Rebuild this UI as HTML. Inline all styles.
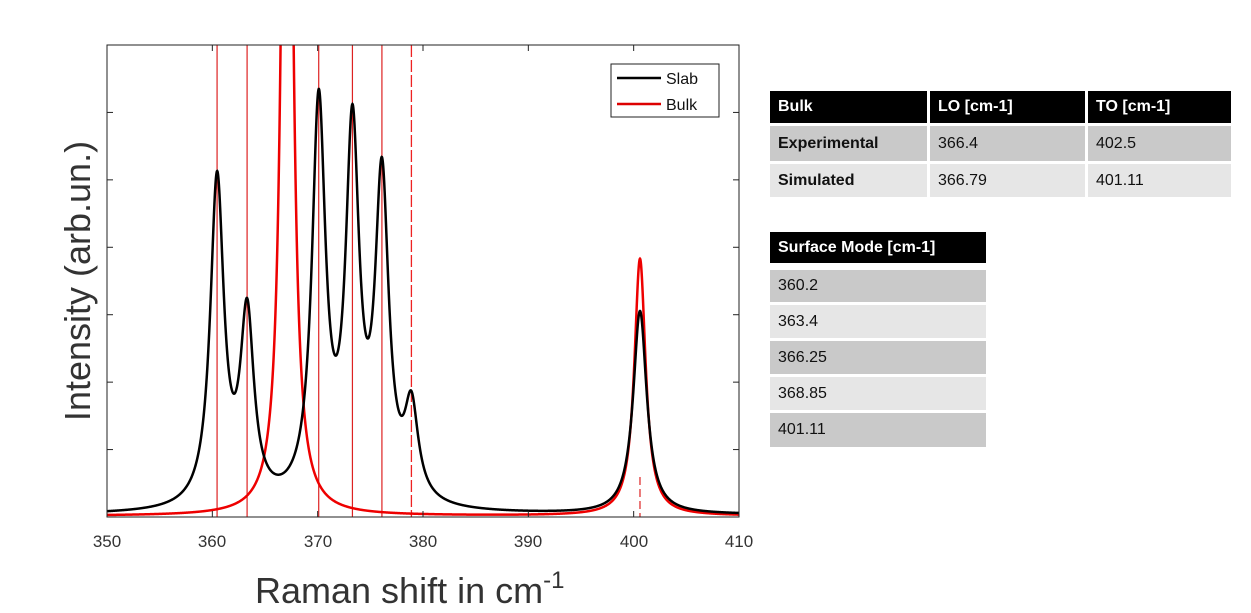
<!DOCTYPE html>
<html><head><meta charset="utf-8"><style>
html,body{margin:0;padding:0;background:#fff;}
body{width:1251px;height:613px;position:relative;overflow:hidden;font-family:"Liberation Sans",sans-serif;}
.c{position:absolute;font-size:16px;box-sizing:border-box;padding-left:8px;display:flex;align-items:center;color:#111;}
.h{background:#000;color:#fff;font-weight:bold;}
.d{background:#c9c9c9;}
.l{background:#e6e6e6;}
.b{font-weight:bold;}
</style></head><body>
<svg id="s" width="1251" height="613" style="position:absolute;left:0;top:0" xmlns="http://www.w3.org/2000/svg">
<defs><clipPath id="cp"><rect x="107" y="45" width="632" height="472"/></clipPath></defs>
<g id="plot" clip-path="url(#cp)"></g>
<rect x="107" y="45" width="632" height="472" fill="none" stroke="#222" stroke-width="1"/>
<g id="ticks" stroke="#222" stroke-width="1"></g>
<g font-family="Liberation Sans, sans-serif" font-size="17" fill="#333" text-anchor="middle">
<text x="107" y="547">350</text><text x="212" y="547">360</text><text x="318" y="547">370</text>
<text x="423" y="547">380</text><text x="528" y="547">390</text><text x="634" y="547">400</text><text x="739" y="547">410</text>
</g>
<text transform="translate(90,281) rotate(-90)" font-family="Liberation Sans, sans-serif" font-size="36" fill="#333" text-anchor="middle">Intensity (arb.un.)</text>
<text x="255" y="603" font-family="Liberation Sans, sans-serif" font-size="36" fill="#333">Raman shift in cm<tspan dy="-15" font-size="24">-1</tspan></text>
<rect x="611" y="64" width="108" height="53" fill="#fff" stroke="#222"/>
<line x1="617" y1="78" x2="661" y2="78" stroke="#000" stroke-width="2.5"/>
<line x1="617" y1="104" x2="661" y2="104" stroke="#d00" stroke-width="2.5"/>
<text x="666" y="84" font-family="Liberation Sans, sans-serif" font-size="16" fill="#111">Slab</text>
<text x="666" y="110" font-family="Liberation Sans, sans-serif" font-size="16" fill="#111">Bulk</text>
</svg>

<div class="c h" style="left:770px;top:91px;width:157px;height:32px">Bulk</div>
<div class="c h" style="left:930px;top:91px;width:155px;height:32px">LO [cm-1]</div>
<div class="c h" style="left:1088px;top:91px;width:143px;height:32px">TO [cm-1]</div>
<div class="c d b" style="left:770px;top:126px;width:157px;height:35px">Experimental</div>
<div class="c d" style="left:930px;top:126px;width:155px;height:35px">366.4</div>
<div class="c d" style="left:1088px;top:126px;width:143px;height:35px">402.5</div>
<div class="c l b" style="left:770px;top:164px;width:157px;height:33px">Simulated</div>
<div class="c l" style="left:930px;top:164px;width:155px;height:33px">366.79</div>
<div class="c l" style="left:1088px;top:164px;width:143px;height:33px">401.11</div>

<div class="c h" style="left:770px;top:232px;width:216px;height:31px">Surface Mode [cm-1]</div>
<div class="c d" style="left:770px;top:270px;width:216px;height:32px">360.2</div>
<div class="c l" style="left:770px;top:305px;width:216px;height:33px">363.4</div>
<div class="c d" style="left:770px;top:341px;width:216px;height:33px">366.25</div>
<div class="c l" style="left:770px;top:377px;width:216px;height:33px">368.85</div>
<div class="c d" style="left:770px;top:413px;width:216px;height:34px">401.11</div>

<script>
var NS="http://www.w3.org/2000/svg";
function X(v){return 107+(v-350)*632/60;}
var B=517;
function el(p,t,a){var e=document.createElementNS(NS,t);for(var k in a)e.setAttribute(k,a[k]);p.appendChild(e);return e;}
var tk=document.getElementById('ticks');
for(var v=360;v<410;v+=10){var x=X(v);el(tk,'line',{x1:x,y1:517,x2:x,y2:511});el(tk,'line',{x1:x,y1:45,x2:x,y2:51});}
for(var k=1;k<7;k++){var y=517-67.43*k;el(tk,'line',{x1:107,y1:y,x2:113,y2:y});el(tk,'line',{x1:739,y1:y,x2:733,y2:y});}
var g=0.78;
function L(x,c,w){w=w||g;return w*w/((x-c)*(x-c)+w*w);}
var cs=[360.45,363.3,370.1,373.3,376.1,378.9,400.6];
var hs=[347,220,429,414,361,127,207];
var n=7,A=[];
for(var i=0;i<n;i++){A[i]=[];for(var j=0;j<n;j++)A[i][j]=L(cs[i],cs[j]);A[i][n]=hs[i]-3;}
for(var i=0;i<n;i++){var p=A[i][i];for(var j=i;j<=n;j++)A[i][j]/=p;for(var r=0;r<n;r++)if(r!=i){var f=A[r][i];for(var j=i;j<=n;j++)A[r][j]-=f*A[i][j];}}
var amp=A.map(function(r){return r[n];});
var plot=document.getElementById('plot');
[360.45,363.3,370.1,373.3,376.1].forEach(function(v){el(plot,'line',{x1:X(v),y1:45,x2:X(v),y2:517,stroke:'#d22',"stroke-width":1.2});});
el(plot,'line',{x1:X(378.9),y1:45,x2:X(378.9),y2:517,stroke:'#e22',"stroke-width":1.3,"stroke-dasharray":"12,3"});
el(plot,'line',{x1:X(400.6),y1:477,x2:X(400.6),y2:517,stroke:'#d22',"stroke-width":1.2,"stroke-dasharray":"8,4"});
var pb="",pr="";
for(var x=350;x<=410.001;x+=0.02){
 var s=2;for(var j=0;j<n;j++)s+=amp[j]*L(x,cs[j]);
 var r=1+1200*L(x,367.1,0.5)+257*L(x,400.6,0.65);
 pb+=(pb?"L":"M")+X(x).toFixed(2)+","+(B-s).toFixed(2);
 pr+=(pr?"L":"M")+X(x).toFixed(2)+","+Math.max(B-r,20).toFixed(2);
}
el(plot,'path',{d:pr,fill:'none',stroke:'#e00',"stroke-width":2.5});
el(plot,'path',{d:pb,fill:'none',stroke:'#000',"stroke-width":2.5});
</script>
</body></html>
